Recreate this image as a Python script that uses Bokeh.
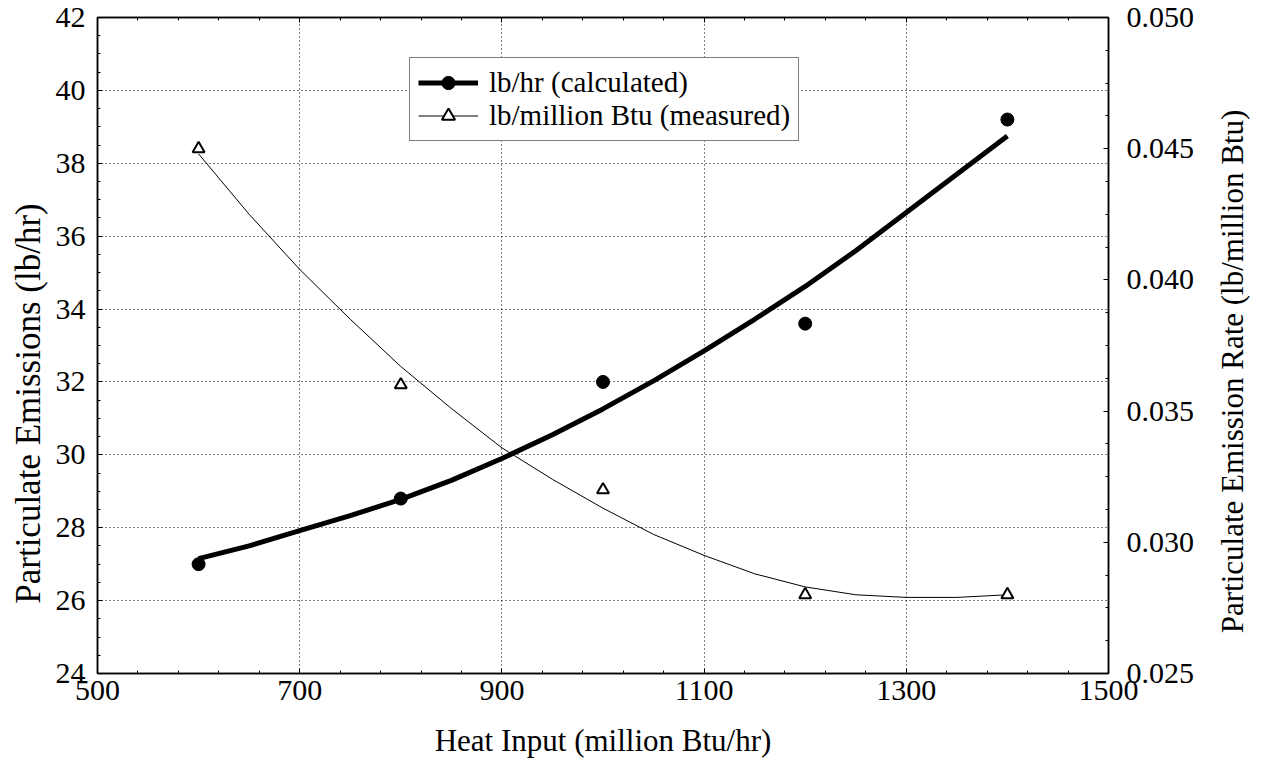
import math
from bokeh.plotting import figure
from bokeh.layouts import row
from bokeh.models import (Range1d, LinearAxis, SingleIntervalTicker, FixedTicker, NumeralTickFormatter,
                          Legend, LegendItem, CustomJSTickFormatter, Label)
from bokeh.embed import file_html
from bokeh.resources import INLINE

# ---- data ----
heat_pts = [600, 800, 1000, 1200, 1400]
lbhr_pts = [27.0, 28.8, 32.0, 33.6, 39.2]
rate_pts = [0.045, 0.036, 0.032, 0.028, 0.028]

curve_x = [600, 650, 700, 750, 800, 850, 900, 950, 1000, 1050, 1100, 1150, 1200, 1250, 1300, 1350, 1400]
lbhr_curve = [27.15, 27.5, 27.92, 28.33, 28.78, 29.3, 29.9, 30.55, 31.26, 32.03, 32.85, 33.72,
              34.62, 35.6, 36.65, 37.7, 38.75]
rate_curve = [0.0448, 0.0425, 0.0404, 0.0385, 0.0367, 0.0351, 0.0336, 0.0324, 0.0313, 0.0303,
              0.0295, 0.0288, 0.0283, 0.0280, 0.0279, 0.0279, 0.0280]

x_ticks = [500, 700, 900, 1100, 1300, 1500]
x_minor_ticks = [540, 580, 620, 660, 740, 780, 820, 860, 940, 980, 1020, 1060,
                 1140, 1180, 1220, 1260, 1340, 1380, 1420, 1460]

x_label = "Heat Input (million Btu/hr)"
y_label = "Particulate Emissions (lb/hr)"
y2_label = "Particulate Emission Rate (lb/million Btu)"
series_names = ["lb/hr (calculated)", "lb/million Btu (measured)"]

FONT = "Liberation Serif"
TICK_SIZE = "30px"
TITLE_SIZE = "31px"

FW, FH = 1011, 656
TOTAL_H = 763
LEFT_W, RIGHT_W = 48, 50

fig = figure(frame_width=FW, frame_height=FH,
             x_range=Range1d(500, 1500), y_range=Range1d(24, 42),
             output_backend="svg", toolbar_location=None,
             min_border_left=97 - LEFT_W, min_border_top=17, min_border_right=92,
             min_border_bottom=TOTAL_H - 17 - FH,
             background_fill_color="white", border_fill_color="white")
fig.extra_y_ranges = {"right": Range1d(0.025, 0.050)}

fig.outline_line_color = "black"
fig.outline_line_width = 1.5

xticker = FixedTicker(ticks=x_ticks, minor_ticks=x_minor_ticks)
yticker = SingleIntervalTicker(interval=2, num_minor_ticks=4)
y2ticker = SingleIntervalTicker(interval=0.005, num_minor_ticks=4)

def style_axis(ax):
    ax.axis_line_color = "black"
    ax.axis_line_width = 1.5
    ax.major_tick_in = 5
    ax.major_tick_out = 0
    ax.minor_tick_in = 3
    ax.minor_tick_out = 0
    ax.major_tick_line_color = "black"
    ax.minor_tick_line_color = "black"
    ax.major_label_text_font = FONT
    ax.major_label_text_font_size = TICK_SIZE
    ax.major_label_text_color = "black"
    ax.axis_label_text_font = FONT
    ax.axis_label_text_font_size = TITLE_SIZE
    ax.axis_label_text_font_style = "normal"
    ax.axis_label_text_color = "black"

xa = fig.xaxis[0]
xa.ticker = xticker
xa.axis_label = x_label
style_axis(xa)
xa.major_label_standoff = 7
xa.axis_label_standoff = 20

ya = fig.yaxis[0]
ya.ticker = yticker
style_axis(ya)
ya.major_label_standoff = 12

y2 = LinearAxis(y_range_name="right", ticker=y2ticker,
                formatter=NumeralTickFormatter(format="0.000"))
style_axis(y2)
y2.major_label_standoff = 18
fig.add_layout(y2, "right")

xtop = LinearAxis(ticker=xticker, formatter=CustomJSTickFormatter(code="return ''"))
style_axis(xtop)
xtop.major_label_standoff = 0
fig.add_layout(xtop, "above")

fig.xgrid.ticker = xticker
fig.ygrid.ticker = yticker
for g in (fig.xgrid[0], fig.ygrid[0]):
    g.grid_line_color = "black"
    g.grid_line_dash = "1 3"
    g.grid_line_width = 1

# measured (right axis)
thin = fig.line(curve_x, rate_curve, y_range_name="right", line_color="black", line_width=1)
tri = fig.scatter(heat_pts, rate_pts, y_range_name="right", marker="triangle", size=12,
                  line_color="black", line_width=2, fill_color="white")

# calculated (left axis)
thick = fig.line(curve_x, lbhr_curve, line_color="black", line_width=5)
dots = fig.scatter(heat_pts, lbhr_pts, marker="circle", size=13,
                   line_color="black", fill_color="black")

legend = Legend(items=[LegendItem(label=series_names[0], renderers=[thick, dots]),
                       LegendItem(label=series_names[1], renderers=[thin, tri])],
                location=(312, 532))
legend.border_line_color = "black"
legend.border_line_width = 1
legend.background_fill_color = "white"
legend.background_fill_alpha = 1
legend.label_text_font = FONT
legend.label_text_font_size = "29px"
legend.label_text_color = "black"
legend.glyph_width = 60
legend.glyph_height = 33
legend.label_height = 33
legend.label_standoff = 11
legend.padding = 8
legend.spacing = 0
legend.margin = 0
fig.add_layout(legend, "center")


def title_strip(width, text, cx, cy, size):
    """A narrow blank figure holding a vertical (bottom-to-top) axis title."""
    s = figure(frame_width=width, frame_height=TOTAL_H,
               x_range=Range1d(0, width), y_range=Range1d(TOTAL_H, 0),
               x_axis_type=None, y_axis_type=None, output_backend="svg", toolbar_location=None,
               min_border_left=0, min_border_right=0, min_border_top=0, min_border_bottom=0,
               background_fill_color="white", border_fill_color="white")
    s.outline_line_color = None
    s.xgrid.visible = False
    s.ygrid.visible = False
    s.add_layout(Label(x=cx, y=cy, text=text, angle=math.pi / 2, text_align="center",
                       text_baseline="middle", text_font=FONT, text_font_size=size,
                       text_color="black"))
    return s


left_strip = title_strip(LEFT_W, y_label, 28, 386, "35px")
right_strip = title_strip(RIGHT_W, y2_label, 32, 354, TITLE_SIZE)

p = row(left_strip, fig, right_strip, spacing=0)

open("out.html", "w").write(file_html(p, INLINE))
